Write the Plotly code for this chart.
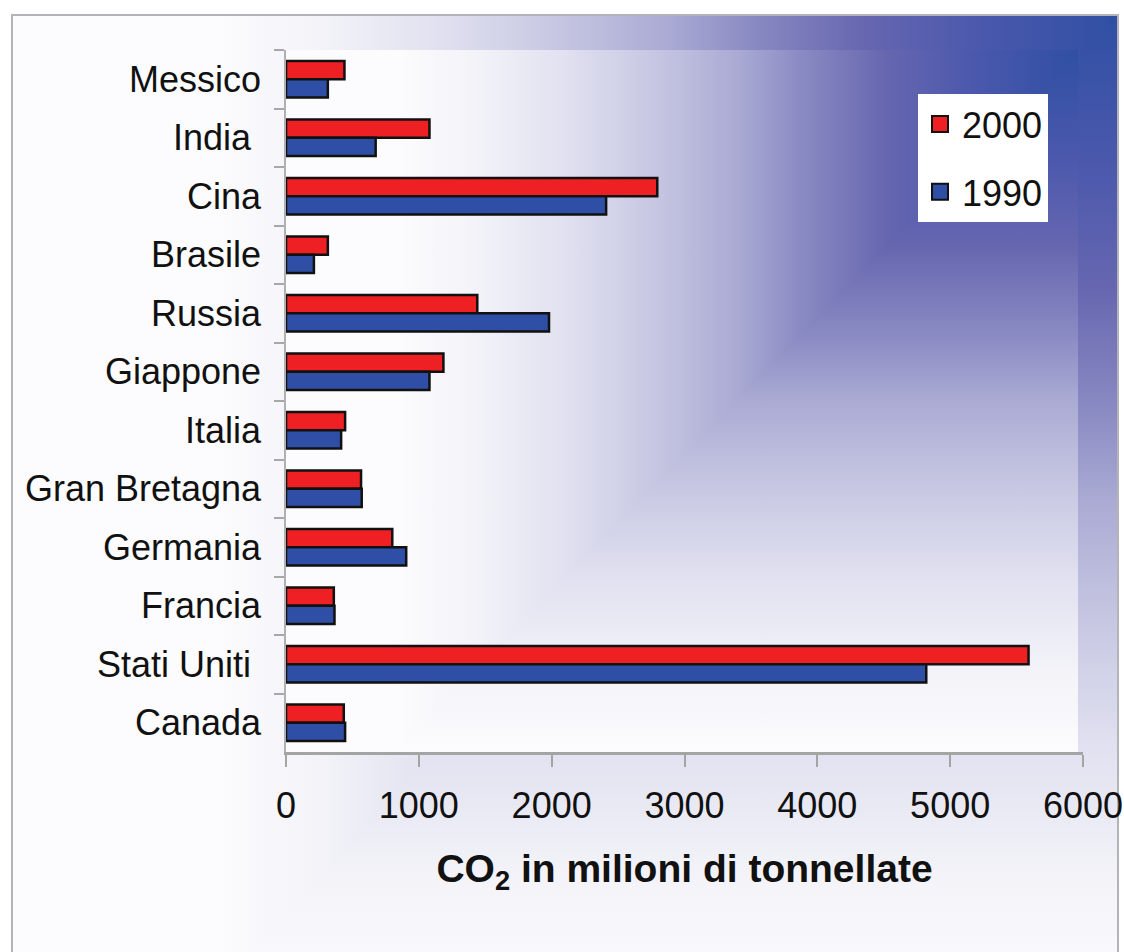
import base64
import plotly.graph_objects as go

# ---- data (top to bottom as shown) ----
countries = ["Messico", "India ", "Cina", "Brasile", "Russia", "Giappone", "Italia",
             "Gran Bretagna", "Germania", "Francia", "Stati Uniti ", "Canada"]
co2_2000 = [440, 1080, 2795, 315, 1440, 1185, 445, 565, 800, 360, 5590, 435]
co2_1990 = [315, 675, 2410, 210, 1980, 1080, 415, 570, 905, 365, 4820, 445]
series_names = ["2000", "1990"]
x_ticks = [0, 1000, 2000, 3000, 4000, 5000, 6000]
x_title = "CO<sub>2</sub> in milioni di tonnellate"

RED = "#ee2024"
BLUE = "#2f4ea6"
FONT = "Liberation Sans"

W, H = 1124, 952
L, R, T, B = 286, 1083, 50, 752   # plot area in pixels

# colour ramp of the "from corner" gradient (offset, colour)
RAMP = [(0, "#2f4fa3"), (0.15, "#4a58ac"), (0.28, "#6666b0"), (0.4, "#8888c2"),
        (0.5, "#aaaad4"), (0.62, "#c6c6e2"), (0.75, "#e0e0f0"), (0.88, "#f2f2f8"),
        (1.0, "#fcfcfe")]


def stops():
    return "".join(f'<stop offset="{o}" stop-color="{c}"/>' for o, c in RAMP)


def corner_gradient(gid, x, y, w, h, cx, cy, wu, hv):
    """Rectangular gradient radiating from the corner (cx, cy): lighter of the
    horizontal and vertical ramps (done by splitting along the diagonal)."""
    k = 4
    dx, dy = cx - k * wu, cy + k * hv
    defs = (f'<linearGradient id="{gid}h" gradientUnits="userSpaceOnUse" x1="{cx}" y1="0" x2="{cx - wu}" y2="0">{stops()}</linearGradient>'
            f'<linearGradient id="{gid}v" gradientUnits="userSpaceOnUse" x1="0" y1="{cy}" x2="0" y2="{cy + hv}">{stops()}</linearGradient>'
            f'<clipPath id="{gid}c"><rect x="{x}" y="{y}" width="{w}" height="{h}"/></clipPath>')
    body = (f'<rect x="{x}" y="{y}" width="{w}" height="{h}" fill="url(#{gid}v)"/>'
            f'<polygon clip-path="url(#{gid}c)" fill="url(#{gid}h)" '
            f'points="{cx},{cy} {dx},{dy} -20000,{dy} -20000,-20000 {cx},-20000"/>')
    return defs, body


d1, b1 = corner_gradient("o", 12, 15, 1106, 1000, 1118, 15, 900, 970)
d2, b2 = corner_gradient("p", L, T, 1078 - L, B - T, 1078, 50, 680, 700)

svg = (f'<svg xmlns="http://www.w3.org/2000/svg" width="{W}" height="{H}" viewBox="0 0 {W} {H}" preserveAspectRatio="none">'
       f'<defs>{d1}{d2}</defs>'
       f'<rect x="0" y="0" width="{W}" height="{H}" fill="#ffffff"/>'
       f'{b1}'
       f'<rect x="12" y="15" width="1106" height="1000" fill="none" stroke="#b4b4b8" stroke-width="2"/>'
       f'{b2}</svg>')
src = "data:image/svg+xml;base64," + base64.b64encode(svg.encode()).decode()

pw, ph = R - L, B - T

fig = go.Figure()
fig.add_trace(go.Bar(y=countries, x=co2_2000, orientation="h", name=series_names[0],
                     marker=dict(color=RED, line=dict(color="#111111", width=2.5)),
                     showlegend=False))
fig.add_trace(go.Bar(y=countries, x=co2_1990, orientation="h", name=series_names[1],
                     marker=dict(color=BLUE, line=dict(color="#111111", width=2.5)),
                     showlegend=False))
# legend entries
for nm, col, grp in [(series_names[0], RED, "a"), (series_names[1], BLUE, "b")]:
    fig.add_trace(go.Scatter(x=[None], y=[None], mode="markers", name=nm, legendgroup=grp,
                             marker=dict(symbol="square", size=16, color=col,
                                         line=dict(color="#111111", width=2))))

fig.update_layout(
    width=W, height=H,
    margin=dict(l=L, r=W - R, t=T, b=H - B, autoexpand=False),
    paper_bgcolor="white",
    plot_bgcolor="rgba(0,0,0,0)",
    barmode="group",
    bargap=0.38,
    bargroupgap=0,
    font=dict(family=FONT, size=36, color="#111111"),
    images=[dict(source=src, xref="paper", yref="paper",
                 x=-L / pw, y=1 + T / ph, sizex=W / pw, sizey=H / ph,
                 xanchor="left", yanchor="top", sizing="stretch", layer="below")],
    legend=dict(x=(918 - L) / pw, y=1 - (94 - T) / ph, xanchor="left", yanchor="top",
                bgcolor="white", borderwidth=0, font=dict(size=36, family=FONT, color="#111111"),
                traceorder="grouped", tracegroupgap=18, itemwidth=34),
    showlegend=True,
)
fig.update_xaxes(range=[0, 6000], tickvals=x_ticks, showgrid=False, zeroline=False,
                 automargin=False,
                 showline=True, linecolor="#a4a4a4", linewidth=2.5,
                 ticks="outside", ticklen=12, tickcolor="#a4a4a4", tickwidth=1.5,
                 tickfont=dict(size=36, family=FONT, color="#111111"),
                 ticklabelstandoff=8,
                 title=dict(text="<b>" + x_title + "</b>", font=dict(size=39, family=FONT, color="#111111"),
                            standoff=30))
fig.update_yaxes(type="category", categoryorder="array", categoryarray=countries,
                 autorange="reversed", showgrid=False, zeroline=False, automargin=False,
                 showline=True, linecolor="#b0b0b0", linewidth=1.5,
                 ticks="outside", tickson="boundaries", ticklen=10, tickcolor="#a8a8a8", tickwidth=1.5,
                 tickfont=dict(size=36, family=FONT, color="#111111"),
                 ticklabelstandoff=16)

fig.write_html("out.html")
